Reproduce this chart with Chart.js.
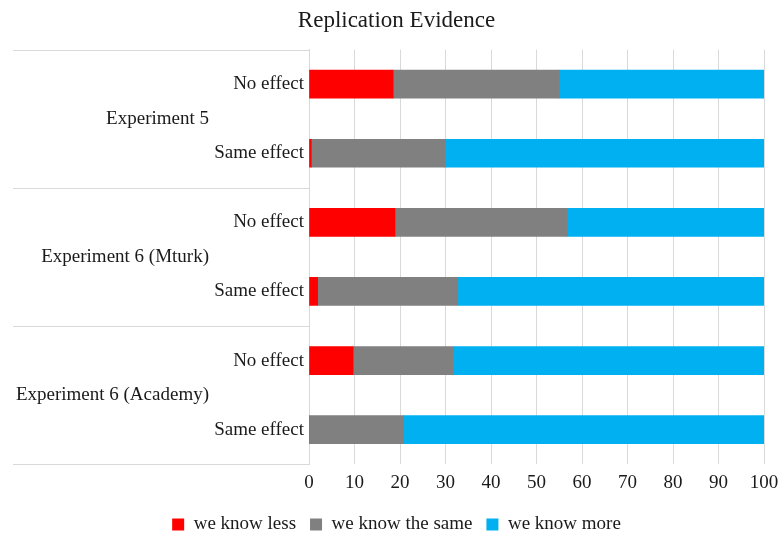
<!DOCTYPE html>
<html>
<head>
<meta charset="utf-8">
<script src="https://cdn.jsdelivr.net/npm/chart.js@4/dist/chart.umd.min.js"></script>
<style>
  html, body { margin: 0; padding: 0; background: #fff; }
  #wrap { width: 779px; height: 535px; }
</style>
</head>
<body>
<div id="wrap"><canvas id="chart"></canvas></div>
<script>
// rows, top to bottom
var categories = ['No effect', 'Same effect', 'No effect', 'Same effect', 'No effect', 'Same effect'];
var groups = ['Experiment 5', 'Experiment 6 (Mturk)', 'Experiment 6 (Academy)'];
var seriesNames = ['we know less', 'we know the same', 'we know more'];
var knowLess = [18.5, 0.5, 18.9, 1.9, 9.7, 0];
var knowSame = [36.4, 29.4, 37.8, 30.8, 21.9, 20.8];
var knowMore = [45.1, 70.1, 43.3, 67.3, 68.4, 79.2];
var xTicks = [0, 10, 20, 30, 40, 50, 60, 70, 80, 90, 100];

var colors = ['#ff0000', '#808080', '#00b0f0'];
var lineColor = '#d9d9d9';
var textColor = '#1a1a1a';

Chart.defaults.font.family = "'Liberation Serif', 'DejaVu Serif', serif";
Chart.defaults.color = textColor;

// group labels + separator lines on the left
var groupAxis = {
    id: 'groupAxis',
    afterDraw: function(chart) {
        var ctx = chart.ctx;
        var y = chart.scales.y;
        var step = y.getPixelForValue(1) - y.getPixelForValue(0);
        var left = chart.chartArea.left - 296;
        var right = chart.chartArea.left;
        ctx.save();
        ctx.strokeStyle = lineColor;
        ctx.lineWidth = 1;
        for (var g = 0; g <= groups.length; g++) {
            var py = Math.round(y.getPixelForValue(g * 2) - step / 2) + 0.5;
            ctx.beginPath();
            ctx.moveTo(left, py);
            ctx.lineTo(right, py);
            ctx.stroke();
        }
        ctx.fillStyle = textColor;
        ctx.font = "19px 'Liberation Serif', serif";
        ctx.textAlign = 'right';
        ctx.textBaseline = 'middle';
        for (var k = 0; k < groups.length; k++) {
            var cy = (y.getPixelForValue(k * 2) + y.getPixelForValue(k * 2 + 1)) / 2;
            ctx.fillText(groups[k], right - 100, cy);
        }
        ctx.restore();
    }
};

var ctx = document.getElementById('chart').getContext('2d');
var myChart = new Chart(ctx, {
    type: 'bar',
    data: {
        labels: categories,
        datasets: [{
            label: seriesNames[0],
            data: knowLess,
            backgroundColor: colors[0]
        }, {
            label: seriesNames[1],
            data: knowSame,
            backgroundColor: colors[1]
        }, {
            label: seriesNames[2],
            data: knowMore,
            backgroundColor: colors[2]
        }]
    },
    options: {
        indexAxis: 'y',
        responsive: true,
        maintainAspectRatio: false,
        animation: false,
        layout: {
            padding: { left: 29, right: 15, top: 0, bottom: -9 }
        },
        datasets: {
            bar: { barThickness: 28, borderWidth: 0 }
        },
        scales: {
            x: {
                stacked: true,
                min: 0,
                max: 100,
                afterBuildTicks: function(scale) {
                    scale.ticks = xTicks.map(function(v) { return { value: v }; });
                },
                afterFit: function(scale) {
                    scale.paddingRight = 0;
                },
                grid: { color: lineColor, drawTicks: false },
                border: { display: false },
                ticks: { padding: 7, font: { size: 19 }, color: textColor }
            },
            y: {
                stacked: true,
                afterFit: function(scale) { scale.width = 280; },
                grid: { display: false, drawTicks: false },
                border: { display: true, color: lineColor },
                ticks: { padding: 5, font: { size: 19 }, color: textColor }
            }
        },
        plugins: {
            title: {
                display: true,
                text: 'Replication Evidence',
                font: { size: 23, weight: 'normal' },
                color: textColor,
                padding: { top: 7, bottom: 15 }
            },
            legend: {
                position: 'bottom',
                labels: {
                    boxWidth: 12,
                    boxHeight: 12,
                    font: { size: 19 },
                    color: textColor,
                    padding: 14
                }
            },
            tooltip: { enabled: false }
        }
    },
    plugins: [groupAxis]
});
</script>
</body>
</html>
